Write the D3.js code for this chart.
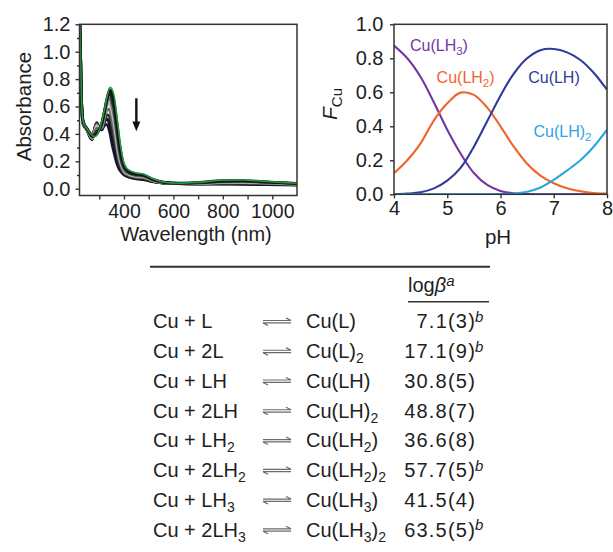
<!DOCTYPE html>
<html>
<head>
<meta charset="utf-8">
<script src="https://cdn.jsdelivr.net/npm/d3@7"></script>
<style>
  html, body { margin: 0; padding: 0; background: #fff; }
  svg { display: block; font-family: "Liberation Sans", Arial, sans-serif; }
</style>
</head>
<body>
<svg id="chart" width="613" height="552"></svg>
<script>
// ---------------- DATA ----------------
// UV-vis titration spectra (absorbance vs wavelength)
const wavelengths = [220, 224, 228, 235, 250, 265, 272, 280, 290, 300, 310, 320, 330, 340, 345, 350, 360, 370, 380, 390, 400, 420, 450, 480, 520, 560, 620, 700, 800, 880, 960, 1040, 1100];
const abs0 = [1.30, 1.00, 0.66, 0.49, 0.44, 0.40, 0.39, 0.38, 0.39, 0.43, 0.49, 0.57, 0.66, 0.73, 0.74, 0.73, 0.68, 0.55, 0.40, 0.27, 0.185, 0.135, 0.115, 0.105, 0.07, 0.048, 0.04, 0.046, 0.062, 0.063, 0.055, 0.046, 0.04];
const abs1 = [1.30, 1.00, 0.66, 0.49, 0.44, 0.40, 0.385, 0.385, 0.40, 0.43, 0.48, 0.56, 0.65, 0.71, 0.72, 0.70, 0.63, 0.50, 0.35, 0.24, 0.17, 0.125, 0.108, 0.10, 0.067, 0.047, 0.04, 0.044, 0.058, 0.059, 0.052, 0.044, 0.039];
const abs2 = [1.30, 1.00, 0.65, 0.49, 0.44, 0.395, 0.38, 0.39, 0.42, 0.43, 0.47, 0.55, 0.64, 0.69, 0.69, 0.66, 0.58, 0.45, 0.31, 0.21, 0.155, 0.118, 0.102, 0.095, 0.064, 0.046, 0.039, 0.042, 0.054, 0.055, 0.049, 0.042, 0.037];
const abs3 = [1.30, 1.00, 0.65, 0.48, 0.435, 0.39, 0.375, 0.40, 0.44, 0.44, 0.46, 0.54, 0.62, 0.66, 0.655, 0.62, 0.53, 0.40, 0.27, 0.19, 0.14, 0.11, 0.096, 0.09, 0.061, 0.045, 0.039, 0.040, 0.050, 0.051, 0.046, 0.040, 0.036];
const abs4 = [1.30, 1.00, 0.64, 0.48, 0.435, 0.385, 0.37, 0.41, 0.46, 0.44, 0.45, 0.53, 0.60, 0.62, 0.61, 0.57, 0.48, 0.35, 0.24, 0.17, 0.13, 0.104, 0.09, 0.085, 0.058, 0.044, 0.038, 0.038, 0.046, 0.047, 0.043, 0.038, 0.034];
const abs5 = [1.30, 1.00, 0.64, 0.48, 0.43, 0.38, 0.365, 0.42, 0.47, 0.445, 0.44, 0.51, 0.57, 0.58, 0.56, 0.51, 0.42, 0.31, 0.21, 0.155, 0.12, 0.098, 0.085, 0.08, 0.055, 0.043, 0.038, 0.037, 0.042, 0.043, 0.040, 0.036, 0.033];
const abs6 = [1.30, 1.00, 0.63, 0.475, 0.43, 0.375, 0.36, 0.43, 0.48, 0.445, 0.435, 0.49, 0.54, 0.53, 0.50, 0.45, 0.36, 0.27, 0.185, 0.14, 0.11, 0.092, 0.08, 0.075, 0.053, 0.042, 0.037, 0.036, 0.039, 0.040, 0.037, 0.034, 0.031];
const abs7 = [1.30, 1.00, 0.63, 0.47, 0.43, 0.37, 0.36, 0.43, 0.48, 0.445, 0.43, 0.48, 0.51, 0.48, 0.44, 0.39, 0.31, 0.23, 0.165, 0.13, 0.105, 0.088, 0.076, 0.07, 0.051, 0.041, 0.037, 0.035, 0.036, 0.036, 0.034, 0.031, 0.029];
const abs8 = [1.30, 1.00, 0.62, 0.47, 0.43, 0.37, 0.36, 0.43, 0.48, 0.44, 0.43, 0.46, 0.47, 0.43, 0.39, 0.34, 0.26, 0.19, 0.145, 0.12, 0.10, 0.085, 0.072, 0.066, 0.05, 0.041, 0.037, 0.034, 0.033, 0.032, 0.030, 0.028, 0.027];
const spectraColors = ["#1f9a3e", "#111111", "#2a2a2a", "#6a6a6a", "#bdbdbd", "#6a6a6a", "#2a2a2a", "#111111", "#17163f"];
const absXTicks = [300, 400, 500, 600, 700, 800, 900, 1000];
const absXLabels = [400, 600, 800, 1000];
const absYTicks = [0, 0.2, 0.4, 0.6, 0.8, 1.0, 1.2];

// Speciation (fraction of Cu vs pH)
const pH = [4, 4.25, 4.5, 4.75, 5, 5.25, 5.5, 5.75, 6, 6.25, 6.5, 6.75, 7, 7.25, 7.5, 7.75, 8];
const fLH3 = [0.875, 0.80, 0.69, 0.54, 0.38, 0.24, 0.125, 0.055, 0.02, 0.006, 0.001, 0, 0, 0, 0, 0, 0];
const fLH2 = [0.124, 0.20, 0.30, 0.435, 0.535, 0.598, 0.585, 0.51, 0.40, 0.28, 0.18, 0.11, 0.065, 0.035, 0.018, 0.008, 0.004];
const fLH = [0.0, 0.004, 0.012, 0.035, 0.08, 0.155, 0.28, 0.43, 0.58, 0.71, 0.80, 0.848, 0.855, 0.835, 0.79, 0.715, 0.615];
const fLH_2 = [0, 0, 0, 0, 0, 0, 0, 0, 0.001, 0.004, 0.015, 0.04, 0.085, 0.14, 0.20, 0.28, 0.38];
const speciesNames = ["LH3", "LH2", "LH", "LH_2"];
const speciesColors = ["#7436a2", "#f2632b", "#2f3a9a", "#2aa6df"];
const speciesLabelAt = [[4.30, 0.843], [4.80, 0.653], [6.52, 0.653], [6.62, 0.339]];
const pHTicks = [4, 5, 6, 7, 8];
const fTicks = [0, 0.2, 0.4, 0.6, 0.8, 1.0];

// Table of stability constants
const ligandCoef = ["", "2", "", "2", "", "2", "", "2"];
const ligandH = [0, 0, 1, 1, 2, 2, 3, 3];
const logBeta = ["7.1(3)", "17.1(9)", "30.8(5)", "48.8(7)", "36.6(8)", "57.7(5)", "41.5(4)", "63.5(5)"];
const footB = [true, true, false, false, false, true, false, true];

// ---------------- DRAW ----------------
const svg = d3.select("#chart");
const ink = "#1e1e1e";
const axisColor = "#333";

function styleAxis(g, fs) {
  g.select(".domain").remove();
  g.selectAll(".tick line").attr("stroke", axisColor).attr("stroke-width", 1.4);
  g.selectAll(".tick text").attr("fill", ink).attr("font-size", fs).attr("font-family", "Liberation Sans, Arial, sans-serif");
}

// ===== Left chart: absorbance =====
{
  const x = d3.scaleLinear().domain([220, 1100]).range([79.5, 297]);
  const y = d3.scaleLinear().domain([0, 1.2]).range([188.7, 24.3]);
  const bottom = 195.5;
  const g = svg.append("g");

  svg.append("defs").append("clipPath").attr("id", "clipA")
    .append("rect").attr("x", 79.5).attr("y", 24.3).attr("width", 297 - 79.5).attr("height", bottom - 24.3);

  const series = [abs8, abs7, abs6, abs5, abs4, abs3, abs2, abs1, abs0];
  const cols = spectraColors.slice().reverse();
  const line = d3.line().x((d, i) => x(wavelengths[i])).y(d => y(d)).curve(d3.curveMonotoneX);
  const lg = g.append("g").attr("clip-path", "url(#clipA)");
  series.forEach((s, k) => {
    lg.append("path").attr("d", line(s)).attr("fill", "none")
      .attr("stroke", cols[k]).attr("stroke-width", k === series.length - 1 ? 1.6 : 2.8)
      .attr("stroke-linejoin", "round");
  });

  // axes
  const ax = g.append("g").attr("transform", `translate(0,${bottom})`)
    .call(d3.axisBottom(x).tickValues(absXTicks).tickSize(4).tickPadding(5)
      .tickFormat(d => absXLabels.includes(d) ? d : ""));
  styleAxis(ax, 19.5);
  const ay = g.append("g").attr("transform", `translate(79.5,0)`)
    .call(d3.axisLeft(y).tickValues(absYTicks).tickSize(4).tickPadding(5).tickFormat(d3.format(".1f")));
  styleAxis(ay, 20);
  const ayMinor = g.append("g").attr("transform", `translate(79.5,0)`)
    .call(d3.axisLeft(y).tickValues(d3.range(0.1, 1.2, 0.2)).tickSize(2.5).tickFormat(""));
  styleAxis(ayMinor, 20);

  g.append("rect").attr("x", 79.5).attr("y", 24.3).attr("width", 297 - 79.5).attr("height", bottom - 24.3)
    .attr("fill", "none").attr("stroke", axisColor).attr("stroke-width", 1.5);

  // arrow indicating decrease
  const ax0 = x(450);
  g.append("line").attr("x1", ax0).attr("x2", ax0).attr("y1", y(0.66)).attr("y2", y(0.46))
    .attr("stroke", "#111").attr("stroke-width", 2.4);
  g.append("path").attr("d", d3.line()([[ax0 - 4, y(0.49)], [ax0 + 4, y(0.49)], [ax0, y(0.42)]]) + "Z")
    .attr("fill", "#111");

  g.append("text").attr("transform", "translate(31,106.5) rotate(-90)")
    .attr("text-anchor", "middle").attr("font-size", 20.5).attr("fill", ink).text("Absorbance");
  g.append("text").attr("x", 196).attr("y", 241).attr("text-anchor", "middle")
    .attr("font-size", 20).attr("fill", ink).text("Wavelength (nm)");
}

// ===== Right chart: speciation =====
{
  const x = d3.scaleLinear().domain([4, 8]).range([394, 607]);
  const y = d3.scaleLinear().domain([0, 1]).range([194.3, 24.3]);
  const g = svg.append("g");
  const series = [fLH3, fLH2, fLH, fLH_2];
  const line = d3.line().x((d, i) => x(pH[i])).y(d => y(Math.max(0, d))).curve(d3.curveCatmullRom.alpha(0.5));
  g.append("defs").append("clipPath").attr("id", "clipF")
    .append("rect").attr("x", 394).attr("y", 24.3).attr("width", 607 - 394).attr("height", 194.3 - 24.3);
  const lg = g.append("g").attr("clip-path", "url(#clipF)");
  series.forEach((s, k) => {
    lg.append("path").attr("d", line(s)).attr("fill", "none")
      .attr("stroke", speciesColors[k]).attr("stroke-width", 2.1);
  });

  const ax = g.append("g").attr("transform", `translate(0,194.3)`)
    .call(d3.axisBottom(x).tickValues(pHTicks).tickSize(4).tickPadding(3).tickFormat(d3.format("d")));
  styleAxis(ax, 20);
  const ay = g.append("g").attr("transform", `translate(394,0)`)
    .call(d3.axisLeft(y).tickValues(fTicks).tickSize(4).tickPadding(6.5).tickFormat(d3.format(".1f")));
  styleAxis(ay, 20);
  g.append("rect").attr("x", 394).attr("y", 24.3).attr("width", 607 - 394).attr("height", 194.3 - 24.3)
    .attr("fill", "none").attr("stroke", axisColor).attr("stroke-width", 1.5);

  // species labels
  speciesNames.forEach((n, k) => {
    const t = g.append("text").attr("x", x(speciesLabelAt[k][0])).attr("y", y(speciesLabelAt[k][1]))
      .attr("font-size", 16).attr("fill", speciesColors[k]);
    if (n === "LH3" || n === "LH2") {
      t.append("tspan").text("Cu(LH");
      t.append("tspan").attr("font-size", 11.5).attr("dy", 4).text(n.slice(2));
      t.append("tspan").attr("dy", -4).text(")");
    } else if (n === "LH") {
      t.append("tspan").text("Cu(LH)");
    } else {
      t.append("tspan").text("Cu(LH)");
      t.append("tspan").attr("font-size", 11.5).attr("dy", 4).text("2");
    }
  });

  const fl = g.append("text").attr("transform", "translate(337,104) rotate(-90)")
    .attr("text-anchor", "middle").attr("fill", ink);
  fl.append("tspan").attr("font-size", 21).attr("font-style", "italic").text("F");
  fl.append("tspan").attr("font-size", 15).attr("dy", 5).text("Cu");

  g.append("text").attr("x", 498).attr("y", 244).attr("text-anchor", "middle")
    .attr("font-size", 20.5).attr("fill", ink).text("pH");
}

// ===== Table =====
{
  const g = svg.append("g").attr("fill", ink);
  const fs = 20;
  const subFs = 14;
  const rowY = d3.scaleLinear().domain([0, 7]).range([328.3, 536.6]);

  g.append("line").attr("x1", 150).attr("x2", 490).attr("y1", 266.7).attr("y2", 266.7)
    .attr("stroke", "#333").attr("stroke-width", 2);
  const h = g.append("text").attr("x", 408).attr("y", 291.7).attr("font-size", fs);
  h.append("tspan").text("log");
  h.append("tspan").attr("font-style", "italic").text("β");
  h.append("tspan").attr("font-style", "italic").attr("font-size", 15).attr("dy", -6).text("a");
  g.append("line").attr("x1", 408).attr("x2", 489).attr("y1", 301.7).attr("y2", 301.7)
    .attr("stroke", "#333").attr("stroke-width", 1.5);

  logBeta.forEach((v, i) => {
    const yy = rowY(i);
    const H = ligandH[i];
    const hStr = H > 0 ? "H" : "";
    // reactants
    const r = g.append("text").attr("x", 153).attr("y", yy).attr("font-size", fs);
    r.append("tspan").text("Cu + " + ligandCoef[i] + "L" + hStr);
    if (H > 1) r.append("tspan").attr("font-size", subFs).attr("dy", 5).text(H);

    // equilibrium harpoons
    const cy = yy - 6.6;
    const x0 = 263, x1 = 291;
    g.append("path").attr("d", `M${x0},${cy - 1.2}H${x1}l-5,-2.6`).attr("fill", "none")
      .attr("stroke", "#6a6a6a").attr("stroke-width", 1.2);
    g.append("path").attr("d", `M${x1},${cy + 1.2}H${x0}l5,2.6`).attr("fill", "none")
      .attr("stroke", "#6a6a6a").attr("stroke-width", 1.2);

    // product
    const p = g.append("text").attr("x", 306).attr("y", yy).attr("font-size", fs);
    p.append("tspan").text("Cu(L" + hStr);
    let shifted = false;
    if (H > 1) { p.append("tspan").attr("font-size", subFs).attr("dy", 5).text(H); shifted = true; }
    p.append("tspan").attr("dy", shifted ? -5 : 0).text(")");
    if (ligandCoef[i] === "2") p.append("tspan").attr("font-size", subFs).attr("dy", 5).text("2");

    // value
    const t = g.append("text").attr("x", 476).attr("y", yy).attr("font-size", fs)
      .attr("text-anchor", "end").attr("letter-spacing", 1.2);
    t.append("tspan").text(v);
    if (footB[i]) {
      g.append("text").attr("x", 475).attr("y", yy - 6.5).attr("font-size", 15)
        .attr("font-style", "italic").text("b");
    }
  });
}
</script>
</body>
</html>
